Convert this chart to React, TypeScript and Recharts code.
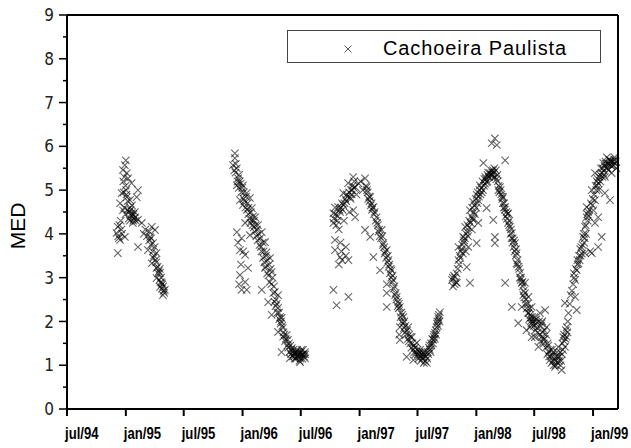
import React from 'react';
import { ScatterChart, Scatter, XAxis, YAxis, Legend, ReferenceLine } from 'recharts';

// days counted from 1 Jul 1994, daily MED readings per season
const season9495: [number, number][] = [
  [155, 4.02], [159, 4.16], [159, 3.56], [160, 3.95], [162, 3.9], [164, 4.2], [166, 4.7], [166, 3.86],
  [168, 4.3], [170, 4.1], [171, 4.93], [172, 4.0], [175, 5.46], [175, 4.54], [176, 5.2], [177, 4.95],
  [179, 5.3], [179, 4.6], [181, 5.57], [181, 3.93], [183, 5.1], [183, 4.45], [184, 5.68], [185, 5.0],
  [186, 4.9], [187, 5.39], [187, 4.84], [189, 4.55], [190, 4.75], [191, 5.27], [193, 4.35], [195, 4.5],
  [196, 4.3], [197, 4.77], [198, 4.6], [199, 4.55], [200, 4.42], [202, 5.16], [202, 4.47], [203, 4.65],
  [205, 4.4], [206, 4.25], [207, 4.3], [208, 4.45], [210, 4.35], [212, 4.5], [213, 4.38], [215, 4.3],
  [218, 4.84], [222, 5.0], [222, 4.32], [222, 3.7], [234, 4.25], [240, 4.0], [245, 4.1], [250, 3.95],
  [253, 3.63], [257, 3.85], [257, 4.05], [260, 3.93], [262, 3.75], [263, 3.9], [265, 4.16], [265, 3.33],
  [268, 3.6], [269, 3.79], [270, 3.45], [272, 3.5], [274, 3.7], [275, 4.09], [277, 3.4], [279, 3.35],
  [280, 3.56], [280, 3.22], [280, 2.99], [283, 3.25], [285, 3.1], [287, 3.15], [289, 2.95], [290, 3.2],
  [291, 3.11], [291, 2.79], [293, 2.9], [294, 3.0], [296, 2.88], [297, 2.75], [298, 2.85], [300, 2.6],
  [301, 2.8], [302, 2.7], [304, 2.65], [306, 2.72],
];

const season9596: [number, number][] = [
  [519, 5.57], [523, 5.45], [525, 5.84], [525, 5.73], [527, 5.4], [528, 5.6], [531, 5.5], [531, 5.11],
  [531, 4.04], [533, 5.2], [535, 5.27], [535, 3.8], [537, 5.05], [538, 5.35], [538, 2.85], [540, 5.2],
  [541, 4.77], [541, 3.63], [541, 3.06], [543, 5.15], [544, 3.3], [545, 4.95], [546, 3.9], [546, 2.72],
  [548, 5.05], [550, 5.11], [550, 4.66], [551, 3.6], [552, 4.8], [553, 4.95], [555, 4.75], [557, 4.25],
  [557, 3.52], [557, 2.9], [558, 4.6], [560, 4.85], [562, 4.93], [562, 2.72], [563, 4.55], [565, 4.7],
  [566, 3.22], [567, 4.45], [568, 4.6], [570, 4.35], [572, 4.82], [572, 3.97], [574, 4.25], [575, 4.5],
  [578, 4.59], [578, 4.32], [580, 4.2], [582, 4.4], [584, 4.15], [585, 4.3], [587, 4.05], [588, 4.38],
  [590, 4.2], [592, 3.95], [594, 4.1], [596, 3.85], [597, 4.2], [600, 4.0], [602, 3.75], [604, 3.9],
  [606, 3.7], [608, 3.6], [609, 4.04], [609, 2.72], [612, 3.8], [613, 3.45], [615, 3.6], [617, 3.35],
  [619, 3.81], [619, 3.22], [621, 3.25], [622, 3.5], [624, 3.58], [626, 3.1], [627, 3.4], [629, 2.44],
  [630, 3.05], [632, 3.3], [634, 2.9], [635, 3.45], [637, 3.2], [639, 2.85], [640, 3.13], [640, 2.15],
  [643, 3.0], [645, 2.65], [647, 2.8], [649, 2.45], [650, 2.67], [652, 2.35], [653, 2.5], [656, 2.4],
  [658, 2.2], [660, 2.6], [660, 2.31], [660, 1.76], [663, 2.2], [664, 2.05], [666, 2.1], [668, 1.95],
  [669, 2.0], [671, 2.08], [671, 1.3], [673, 1.9], [675, 1.85], [676, 1.65], [677, 1.75], [680, 1.7],
  [682, 1.55], [684, 1.6], [687, 1.69], [689, 1.45], [691, 1.58], [692, 1.4], [694, 1.5], [696, 1.3],
  [697, 1.16], [699, 1.45], [700, 1.25], [701, 1.35], [703, 1.39], [705, 1.2], [706, 1.3], [708, 1.35],
  [709, 1.25], [711, 1.2], [712, 1.15], [713, 1.28], [715, 1.3], [716, 1.15], [718, 1.3], [719, 1.2],
  [720, 1.35], [722, 1.2], [723, 1.3], [725, 1.25], [726, 1.2], [727, 1.1], [729, 1.07], [730, 1.15],
  [731, 1.3], [733, 1.35], [734, 1.23], [736, 1.15], [737, 1.25], [738, 1.35], [740, 1.25], [741, 1.2],
  [744, 1.16], [744, 1.3], [745, 1.25],
];

const season9697: [number, number][] = [
  [833, 4.47], [833, 4.25], [833, 2.72], [835, 4.35], [838, 3.86], [838, 3.63], [838, 4.6], [840, 4.45],
  [842, 4.2], [843, 2.37], [845, 4.3], [847, 4.4], [848, 4.61], [850, 4.1], [850, 3.3], [852, 4.55],
  [854, 3.47], [854, 4.5], [855, 3.8], [856, 4.6], [858, 3.6], [860, 4.7], [860, 3.4], [862, 4.55],
  [864, 4.93], [864, 4.66], [866, 4.3], [868, 4.7], [870, 4.8], [872, 3.5], [872, 3.7], [873, 4.75],
  [875, 4.9], [877, 4.85], [879, 5.16], [880, 3.4], [880, 2.56], [882, 4.95], [883, 4.5], [885, 4.84],
  [887, 4.8], [888, 5.0], [890, 4.9], [892, 5.0], [893, 5.1], [895, 5.3], [895, 4.54], [897, 5.05],
  [898, 5.2], [901, 5.07], [901, 4.38], [905, 4.9], [912, 5.15], [918, 5.2], [925, 5.0], [932, 5.27],
  [932, 4.09], [935, 5.1], [937, 5.07], [938, 5.0], [940, 4.95], [942, 4.8], [945, 4.85], [946, 4.75],
  [948, 4.84], [948, 3.93], [950, 4.65], [952, 4.7], [954, 4.55], [955, 4.6], [958, 4.61], [958, 3.47],
  [960, 4.45], [962, 4.5], [965, 4.3], [968, 4.38], [970, 4.25], [972, 4.2], [974, 4.05], [976, 4.1],
  [978, 3.95], [979, 3.17], [982, 3.9], [984, 4.09], [986, 3.95], [988, 3.75], [989, 3.79], [992, 3.7],
  [993, 3.55], [995, 3.6], [998, 3.45], [1000, 3.63], [1000, 2.85], [1000, 2.65], [1000, 2.33], [1002, 3.35],
  [1003, 3.5], [1005, 3.4], [1006, 3.25], [1008, 3.3], [1010, 3.1], [1012, 3.2], [1014, 3.0], [1015, 3.17],
  [1017, 2.9], [1018, 3.05], [1020, 2.95], [1022, 2.75], [1024, 2.8], [1026, 2.6], [1028, 2.65], [1030, 2.5],
  [1031, 2.56], [1034, 2.35], [1035, 2.45], [1037, 2.3], [1038, 2.4], [1039, 1.7], [1041, 2.33], [1041, 1.87],
  [1041, 1.58], [1043, 2.1], [1045, 2.2], [1047, 2.0], [1048, 2.15], [1050, 1.95], [1052, 2.1], [1054, 1.85],
  [1055, 2.0], [1057, 1.75], [1058, 1.9], [1061, 1.7], [1062, 1.19], [1064, 1.8], [1066, 1.6], [1067, 1.87],
  [1069, 1.55], [1070, 1.7], [1073, 1.5], [1074, 1.65], [1077, 1.4], [1078, 1.64], [1080, 1.5], [1082, 1.35],
  [1083, 1.12], [1085, 1.45], [1086, 1.3], [1088, 1.4], [1090, 1.25], [1092, 1.3], [1094, 1.51], [1096, 1.35],
  [1097, 1.25], [1099, 1.15], [1100, 1.2], [1102, 1.3], [1104, 1.35], [1104, 1.28], [1106, 1.1], [1108, 1.2],
  [1110, 1.25], [1111, 1.15], [1113, 1.3], [1114, 1.19], [1116, 1.05], [1117, 1.25], [1119, 1.3], [1120, 1.1],
  [1122, 1.2], [1125, 1.05], [1127, 1.15], [1128, 1.3], [1130, 1.25], [1132, 1.4], [1134, 1.45], [1135, 1.35],
  [1137, 1.3], [1138, 1.5], [1140, 1.45], [1142, 1.6], [1144, 1.5], [1145, 1.58], [1147, 1.65], [1148, 1.7],
  [1150, 1.6], [1151, 1.74], [1153, 1.8], [1154, 1.7], [1156, 1.87], [1157, 1.95], [1158, 2.0], [1160, 1.9],
  [1161, 2.1], [1162, 2.05], [1163, 2.15], [1165, 2.0], [1166, 2.21],
];

const season9799: [number, number][] = [
  [1204, 2.95], [1206, 3.0], [1207, 2.8], [1210, 3.05], [1212, 2.85], [1213, 3.01], [1216, 2.9], [1218, 3.1],
  [1219, 2.88], [1222, 3.2], [1224, 3.7], [1224, 3.4], [1226, 3.3], [1228, 3.5], [1230, 3.45], [1232, 3.6],
  [1234, 3.65], [1236, 3.75], [1238, 3.55], [1239, 3.93], [1241, 3.8], [1242, 3.85], [1244, 3.9], [1245, 4.16],
  [1247, 3.6], [1248, 4.0], [1250, 3.24], [1251, 4.05], [1252, 4.2], [1254, 3.95], [1255, 3.7], [1257, 4.15],
  [1258, 4.3], [1260, 4.54], [1260, 2.88], [1262, 4.25], [1264, 4.4], [1266, 4.1], [1267, 4.6], [1268, 4.35],
  [1270, 4.73], [1270, 4.32], [1272, 4.5], [1274, 4.65], [1276, 4.45], [1278, 4.8], [1280, 4.6], [1281, 4.89],
  [1281, 3.79], [1283, 4.7], [1284, 4.95], [1286, 4.77], [1286, 4.25], [1288, 4.85], [1290, 5.0], [1291, 5.11],
  [1293, 4.9], [1295, 5.05], [1297, 4.95], [1299, 5.2], [1301, 5.0], [1302, 5.62], [1304, 5.1], [1305, 5.25],
  [1307, 5.15], [1308, 5.3], [1310, 5.25], [1312, 5.18], [1312, 4.59], [1314, 5.2], [1315, 5.35], [1317, 5.4],
  [1318, 5.3], [1320, 5.3], [1323, 5.39], [1325, 5.35], [1326, 5.45], [1328, 6.07], [1329, 5.35], [1330, 5.4],
  [1332, 5.45], [1333, 5.27], [1333, 4.32], [1335, 5.4], [1336, 5.5], [1338, 3.93], [1338, 3.79], [1338, 6.18],
  [1339, 5.3], [1341, 5.45], [1343, 5.25], [1344, 6.03], [1346, 5.35], [1347, 5.2], [1349, 5.0], [1350, 5.1],
  [1352, 4.95], [1354, 5.07], [1356, 5.0], [1358, 4.9], [1360, 4.85], [1361, 4.8], [1363, 4.7], [1364, 4.84],
  [1366, 4.6], [1367, 4.7], [1369, 4.55], [1370, 4.61], [1370, 5.68], [1370, 2.88], [1372, 4.4], [1374, 4.5],
  [1376, 4.35], [1377, 4.45], [1379, 4.25], [1380, 4.47], [1382, 4.2], [1383, 4.3], [1385, 4.16], [1387, 4.0],
  [1388, 4.1], [1390, 3.9], [1391, 4.02], [1391, 2.33], [1393, 3.8], [1394, 3.9], [1397, 3.7], [1398, 3.85],
  [1400, 3.6], [1401, 3.79], [1403, 3.5], [1404, 3.65], [1406, 3.56], [1406, 3.33], [1408, 3.3], [1409, 3.4],
  [1411, 1.96], [1412, 3.25], [1414, 3.2], [1416, 3.0], [1417, 3.11], [1419, 2.95], [1420, 3.0], [1422, 2.88],
  [1422, 2.33], [1424, 2.9], [1425, 2.8], [1427, 2.6], [1428, 2.7], [1430, 2.55], [1432, 2.65], [1432, 2.88],
  [1434, 2.4], [1435, 2.5], [1437, 1.8], [1438, 2.3], [1440, 2.4], [1442, 2.2], [1443, 2.19], [1443, 2.56],
  [1445, 2.05], [1446, 2.3], [1448, 1.87], [1449, 2.15], [1450, 2.1], [1452, 1.95], [1453, 2.03], [1453, 2.33],
  [1453, 1.64], [1455, 2.1], [1456, 2.0], [1458, 1.95], [1460, 1.9], [1462, 2.1], [1463, 2.03], [1463, 1.64],
  [1465, 1.8], [1466, 1.95], [1468, 2.05], [1470, 1.85], [1472, 1.75], [1474, 1.42], [1476, 2.0], [1478, 1.7],
  [1479, 2.19], [1481, 1.55], [1482, 1.9], [1484, 1.96], [1485, 1.65], [1486, 2.0], [1488, 1.75], [1489, 1.58],
  [1491, 1.5], [1492, 1.8], [1494, 1.6], [1495, 2.26], [1497, 1.4], [1498, 1.7], [1500, 1.87], [1502, 1.25],
  [1503, 1.5], [1505, 1.45], [1506, 1.3], [1508, 1.2], [1510, 1.12], [1511, 1.35], [1513, 1.2], [1515, 1.05],
  [1516, 1.35], [1518, 1.25], [1519, 1.1], [1521, 1.3], [1522, 1.0], [1524, 1.15], [1526, 0.96], [1528, 1.0],
  [1529, 1.1], [1531, 1.2], [1532, 1.3], [1534, 1.05], [1536, 1.19], [1536, 1.42], [1538, 1.1], [1540, 1.2],
  [1542, 1.3], [1543, 1.0], [1545, 1.1], [1547, 0.89], [1548, 1.25], [1549, 1.5], [1551, 1.35], [1552, 1.64],
  [1554, 1.7], [1555, 1.55], [1557, 1.42], [1557, 2.42], [1559, 1.6], [1560, 1.8], [1562, 1.65], [1563, 1.87],
  [1565, 1.75], [1566, 2.0], [1568, 2.19], [1572, 2.4], [1575, 2.6], [1579, 2.7], [1583, 2.85], [1585, 3.1],
  [1586, 3.0], [1589, 2.95], [1589, 2.56], [1591, 3.2], [1594, 3.17], [1594, 2.26], [1596, 3.4], [1597, 3.3],
  [1599, 3.33], [1601, 3.5], [1603, 3.4], [1605, 3.65], [1606, 3.5], [1608, 3.7], [1610, 3.55], [1612, 3.75],
  [1614, 3.93], [1616, 4.0], [1617, 3.8], [1619, 3.9], [1620, 4.16], [1620, 3.56], [1622, 4.2], [1623, 4.0],
  [1625, 4.38], [1625, 4.61], [1627, 4.45], [1628, 4.3], [1630, 4.5], [1632, 4.4], [1634, 4.55], [1636, 3.6],
  [1638, 4.7], [1641, 5.0], [1641, 3.56], [1643, 4.65], [1644, 4.8], [1646, 4.54], [1648, 4.9], [1651, 4.25],
  [1651, 4.77], [1651, 5.39], [1653, 5.1], [1655, 5.0], [1657, 5.2], [1658, 5.1], [1660, 5.25], [1661, 5.16],
  [1661, 4.38], [1661, 3.7], [1663, 5.0], [1665, 5.3], [1667, 5.35], [1668, 5.2], [1670, 5.5], [1672, 3.93],
  [1672, 5.4], [1674, 5.3], [1675, 5.5], [1677, 5.62], [1678, 5.45], [1680, 5.35], [1681, 5.55], [1682, 5.3],
  [1682, 4.93], [1684, 5.65], [1685, 5.6], [1687, 5.5], [1688, 5.75], [1690, 5.5], [1692, 5.6], [1693, 5.46],
  [1695, 5.7], [1696, 5.6], [1698, 5.68], [1698, 4.77], [1700, 5.65], [1701, 5.55], [1703, 5.39], [1705, 5.55],
  [1706, 5.65], [1708, 5.57], [1709, 5.65], [1711, 5.7], [1712, 5.75], [1714, 5.6], [1716, 5.65], [1718, 5.5],
];

const xTicks = [0, 184, 365, 549, 731, 915, 1096, 1280, 1461, 1645];
const xLabels = ['jul/94', 'jan/95', 'jul/95', 'jan/96', 'jul/96', 'jan/97', 'jul/97', 'jan/98', 'jul/98', 'jan/99'];
const yTicks = [0, 0.5, 1, 1.5, 2, 2.5, 3, 3.5, 4, 4.5, 5, 5.5, 6, 6.5, 7, 7.5, 8, 8.5, 9];
const X_MAX = 1723;

const data = [...season9495, ...season9596, ...season9697, ...season9799].map(([day, med]) => ({ day, med }));

const AXIS_LEFT = 67;
const AXIS_BOTTOM = 409;

const Cross = (props: any) => {
  const { cx, cy } = props;
  if (cx == null || cy == null) return null;
  const r = 3.7;
  return (
    <path
      d={`M${cx - r},${cy - r}L${cx + r},${cy + r}M${cx + r},${cy - r}L${cx - r},${cy + r}`}
      stroke="#000"
      strokeOpacity={0.6}
      strokeWidth={1.1}
      fill="none"
    />
  );
};

const YTick = (props: any) => {
  const { y, payload } = props;
  const v = payload.value;
  const major = Number.isInteger(v);
  return (
    <g>
      <line x1={AXIS_LEFT - (major ? 8 : 4)} x2={AXIS_LEFT} y1={y} y2={y} stroke="#000" strokeWidth={1.5} />
      {major && (
        <text x={AXIS_LEFT - 13} y={y} dy="0.36em" textAnchor="end" fontSize={17} fill="#222"
          fontFamily="'Liberation Sans Narrow', 'DejaVu Sans Condensed', sans-serif">
          {v}
        </text>
      )}
    </g>
  );
};

const XTick = (props: any) => {
  const { x, payload } = props;
  const idx = xTicks.indexOf(payload.value);
  return (
    <g>
      <line x1={x} x2={x} y1={AXIS_BOTTOM} y2={AXIS_BOTTOM + 7} stroke="#000" strokeWidth={2} />
      <text transform={`translate(${x - 2},${AXIS_BOTTOM + 30}) scale(0.82,1)`} textAnchor="start" fontSize={16}
        fontWeight="bold" fill="#000" fontFamily="'Liberation Sans', Arial, sans-serif">
        {xLabels[idx]}
      </text>
    </g>
  );
};

const LegendBox = () => (
  <div style={{ width: 312, height: 31, border: '1px solid #444', background: '#fff', position: 'relative', boxSizing: 'content-box' }}>
    <svg width={20} height={20} style={{ position: 'absolute', left: 50, top: 8 }}>
      <path d="M6.5,6.5L13.5,13.5M13.5,6.5L6.5,13.5" stroke="#555" strokeWidth={1} />
    </svg>
    <span style={{ position: 'absolute', left: 95, top: 6, fontSize: 20, letterSpacing: 0.9, lineHeight: '22px',
      fontFamily: "'Liberation Sans', Arial, sans-serif", color: '#000', whiteSpace: 'nowrap' }}>
      Cachoeira Paulista
    </span>
  </div>
);

export default function App() {
  return (
    <div style={{ position: 'absolute', left: 0, top: 0, background: '#fff' }}>
      <ScatterChart width={631} height={448} margin={{ top: 15, right: 13, bottom: 0, left: 0 }}>
        <XAxis
          type="number"
          dataKey="day"
          domain={[0, X_MAX]}
          ticks={xTicks}
          interval={0}
          height={39}
          tickLine={false}
          axisLine={{ stroke: '#000', strokeWidth: 2 }}
          tick={<XTick />}
        />
        <YAxis
          type="number"
          dataKey="med"
          domain={[0, 9]}
          ticks={yTicks}
          interval={0}
          width={67}
          tickLine={false}
          axisLine={{ stroke: '#000', strokeWidth: 2 }}
          tick={<YTick />}
          label={() => (
            <text x={25} y={226} transform="rotate(-90 25 226)" textAnchor="middle" fontSize={21}
              fontFamily="'Liberation Sans', Arial, sans-serif" fill="#000">
              MED
            </text>
          )}
        />
        <ReferenceLine y={9} stroke="#000" strokeWidth={2} />
        <ReferenceLine x={X_MAX} stroke="#000" strokeWidth={2} />
        <Legend
          layout="horizontal"
          verticalAlign="middle"
          align="center"
          wrapperStyle={{ top: 30, left: 287, width: 314, height: 33 }}
          content={() => <LegendBox />}
        />
        <Scatter name="Cachoeira Paulista" data={data} shape={<Cross />} isAnimationActive={false} />
      </ScatterChart>
    </div>
  );
}
